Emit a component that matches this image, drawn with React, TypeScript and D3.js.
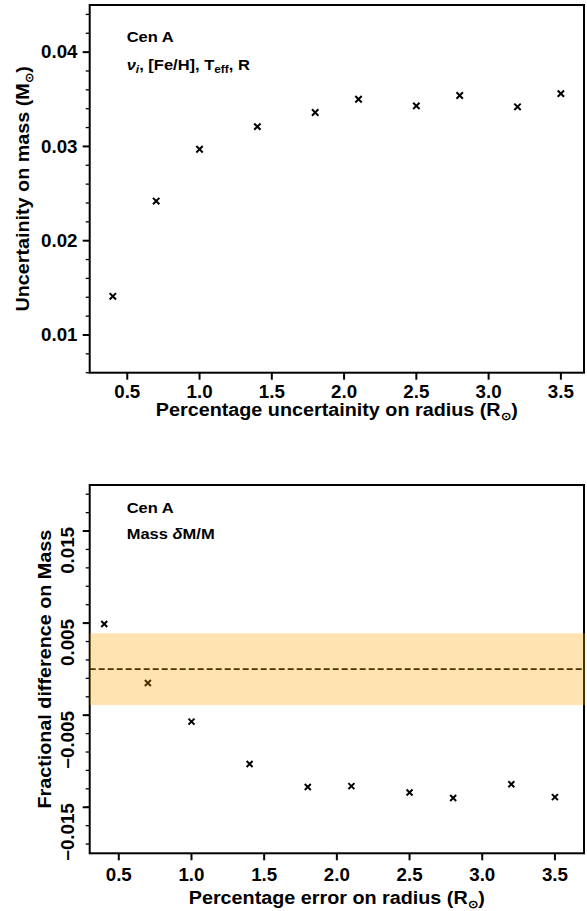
import React from "react";
import * as d3 from "d3";

const radiusPct = [0.4, 0.7, 1.0, 1.4, 1.8, 2.1, 2.5, 2.8, 3.2, 3.5];
const massUncertainty = [0.0141, 0.0242, 0.0297, 0.0321, 0.0336, 0.035, 0.0343, 0.0354, 0.0342, 0.0356];
const massFracDiff = [0.0049, -0.0015, -0.0057, -0.0103, -0.0128, -0.0127, -0.0134, -0.014, -0.0125, -0.0139];
const xTickValues = [0.5, 1.0, 1.5, 2.0, 2.5, 3.0, 3.5];
const topYTicks = [0.01, 0.02, 0.03, 0.04];
const botYTicks = [-0.015, -0.005, 0.005, 0.015];
const bandHalfWidth = 0.0039;

const W = 587;
const H = 911;
const FONT = "'Liberation Sans', Arial, Helvetica, sans-serif";
const L = 89.7;
const R = 584;

const Cross = ({ x, y, s = 3.2 }: { x: number; y: number; s?: number }) => (
  <path d={`M${x - s},${y - s}L${x + s},${y + s}M${x - s},${y + s}L${x + s},${y - s}`} stroke="#000" strokeWidth={2} fill="none" />
);

const Sun = () => (
  <tspan fontSize="0.62em" dy="4">⊙</tspan>
);

type TProps = {
  x: number;
  y: number;
  rot?: number;
  anchor?: string;
  fs: number;
  sx?: number;
  children: React.ReactNode;
};

const T = ({ x, y, rot = 0, anchor = "start", fs, sx = 1.1, children }: TProps) => (
  <text
    transform={`translate(${x},${y}) rotate(${rot}) scale(${sx},1)`}
    textAnchor={anchor}
    fontSize={fs}
  >
    {children}
  </text>
);

export default function App() {
  const xTop = d3.scaleLinear().domain([0.24, 3.66]).range([L, R]);
  const yTop = d3.scaleLinear().domain([0.006, 0.045]).range([372.7, 5]);
  const xBot = d3.scaleLinear().domain([0.3, 3.7]).range([L, R]);
  const yBot = d3.scaleLinear().domain([-0.02, 0.02]).range([853.3, 485]);

  const topMinor = d3.range(0.006, 0.0451, 0.002).filter((v) => !topYTicks.some((t) => Math.abs(t - v) < 1e-6));
  const botMinor = d3.range(-0.019, 0.0191, 0.002);

  const tickFs = 17.5;
  const tickSx = 1.07;
  const labFs = 17.5;
  const labSx = 1.13;
  const annFs = 15;
  const annSx = 1.1;

  return (
    <svg width={W} height={H} style={{ position: "absolute", left: 0, top: 0, background: "#fff" }} fontFamily={FONT} fontWeight="bold">
      <rect width={W} height={H} fill="#fff" />
      {/* ---------- TOP PANEL ---------- */}
      <g>
        {radiusPct.map((r, i) => (
          <Cross key={i} x={xTop(r)} y={yTop(massUncertainty[i])} />
        ))}
        {topMinor.map((v, i) => (
          <line key={i} x1={L - 4} x2={L} y1={yTop(v)} y2={yTop(v)} stroke="#000" strokeWidth={1.3} />
        ))}
        {topYTicks.map((v, i) => (
          <g key={i}>
            <line x1={L - 7} x2={L} y1={yTop(v)} y2={yTop(v)} stroke="#000" strokeWidth={2} />
            <T x={77.5} y={yTop(v) + 6.2} anchor="end" fs={tickFs} sx={tickSx}>{d3.format(".2f")(v)}</T>
          </g>
        ))}
        {xTickValues.map((v, i) => (
          <g key={i}>
            <line x1={xTop(v)} x2={xTop(v)} y1={372.7} y2={379.7} stroke="#000" strokeWidth={2} />
            <T x={xTop(v)} y={397.7} anchor="middle" fs={tickFs} sx={tickSx}>{d3.format(".1f")(v)}</T>
          </g>
        ))}
        <rect x={L} y={5} width={R - L} height={372.7 - 5} fill="none" stroke="#000" strokeWidth={2} />
        <T x={336.8} y={415.5} anchor="middle" fs={labFs} sx={labSx}>
          Percentage uncertainity on radius (R<Sun />
          <tspan dy="-4">)</tspan>
        </T>
        <T x={29} y={(5 + 372.7) / 2} rot={-90} anchor="middle" fs={labFs} sx={labSx}>
          Uncertainity on mass (M<Sun />
          <tspan dy="-4">)</tspan>
        </T>
        <T x={126.7} y={42.3} fs={annFs} sx={annSx}>Cen A</T>
        <T x={126.7} y={70} fs={annFs} sx={annSx}>
          <tspan fontStyle="italic">ν</tspan>
          <tspan fontStyle="italic" fontSize="0.72em" dy="3">i</tspan>
          <tspan dy="-3">, [Fe/H], T</tspan>
          <tspan fontSize="0.72em" dy="3">eff</tspan>
          <tspan dy="-3">, R</tspan>
        </T>
      </g>

      {/* ---------- BOTTOM PANEL ---------- */}
      <g>
        <line x1={L} x2={R} y1={yBot(0)} y2={yBot(0)} stroke="#000" strokeWidth={1.8} strokeDasharray="6,3" />
        {radiusPct.map((r, i) => (
          <Cross key={i} x={xBot(r)} y={yBot(massFracDiff[i])} s={3} />
        ))}
        {botMinor.map((v, i) => (
          <line key={i} x1={L - 4} x2={L} y1={yBot(v)} y2={yBot(v)} stroke="#000" strokeWidth={1.3} />
        ))}
        {botYTicks.map((v, i) => (
          <g key={i}>
            <line x1={L - 7} x2={L} y1={yBot(v)} y2={yBot(v)} stroke="#000" strokeWidth={2} />
            <T x={74} y={yBot(v) - 4} rot={-90} anchor="end" fs={tickFs} sx={tickSx}>
              {d3.format(".3f")(v).replace("-", "−")}
            </T>
          </g>
        ))}
        {xTickValues.map((v, i) => (
          <g key={i}>
            <line x1={xBot(v)} x2={xBot(v)} y1={853.3} y2={860.3} stroke="#000" strokeWidth={2} />
            <T x={xBot(v)} y={880.7} anchor="middle" fs={tickFs} sx={tickSx}>{d3.format(".1f")(v)}</T>
          </g>
        ))}
        <rect x={L} y={485} width={R - L} height={853.3 - 485} fill="none" stroke="#000" strokeWidth={2} />
        <rect
          x={L}
          y={yBot(bandHalfWidth)}
          width={R - L + 1}
          height={yBot(-bandHalfWidth) - yBot(bandHalfWidth)}
          fill="orange"
          fillOpacity={0.3}
        />
        <T x={336.8} y={903.5} anchor="middle" fs={labFs} sx={labSx}>
          Percentage error on radius (R<Sun />
          <tspan dy="-4">)</tspan>
        </T>
        <T x={51} y={(485 + 853.3) / 2} rot={-90} anchor="middle" fs={labFs} sx={labSx}>
          Fractional difference on Mass
        </T>
        <T x={126.7} y={512.7} fs={annFs} sx={annSx}>Cen A</T>
        <T x={126.7} y={539.3} fs={annFs} sx={annSx}>
          Mass <tspan fontStyle="italic">δ</tspan>M/M
        </T>
      </g>
    </svg>
  );
}
